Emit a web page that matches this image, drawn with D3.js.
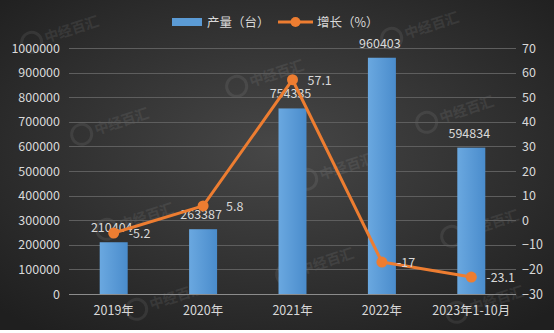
<!DOCTYPE html>
<html><head><meta charset="utf-8">
<script src="https://cdn.jsdelivr.net/npm/d3@7"></script>
<style>html,body{margin:0;padding:0;background:#fff}svg{display:block}</style>
</head><body><svg id="c" width="554" height="333"></svg>
<script>
const categories = ["2019年","2020年","2021年","2022年","2023年1-10月"];
const production = [210404, 263387, 754335, 960403, 594834];
const growth = [-5.2, 5.8, 57.1, -17, -23.1];
const leftTicks = [0,100000,200000,300000,400000,500000,600000,700000,800000,900000,1000000];
const rightTicks = [-30,-20,-10,0,10,20,30,40,50,60,70];
const legendLabels = ["产量（台）","增长（%）"];

const W=554,H=333;
const svg=d3.select("#c");
const defs=svg.append("defs");
const rg=defs.append("radialGradient").attr("id","bg").attr("cx","50%").attr("cy","45%").attr("r","70%");
rg.append("stop").attr("offset","0%").attr("stop-color","#474747");
rg.append("stop").attr("offset","100%").attr("stop-color","#1f1f1f");
const bgr=defs.append("linearGradient").attr("id","bar").attr("x1","0").attr("x2","1").attr("y1","0").attr("y2","0");
bgr.append("stop").attr("offset","0%").attr("stop-color","#6aa8e0");
bgr.append("stop").attr("offset","100%").attr("stop-color","#4a8ccc");
svg.append("rect").attr("width",W).attr("height",330).attr("fill","url(#bg)");

const font="'Microsoft YaHei','Noto Sans CJK SC','DejaVu Sans',sans-serif";
const m={l:69,r:516,t:48,b:294};
const x=d3.scaleBand().domain(categories).range([m.l,m.r]).paddingInner(0.687).paddingOuter(0.3435);
const yL=d3.scaleLinear().domain([0,1000000]).range([m.b,m.t]);
const yR=d3.scaleLinear().domain([-30,70]).range([m.b,m.t]);

// watermarks (faint, as in the reference)
const wm=[[45,38],[250,82],[95,130],[405,34],[440,118],[320,175],[120,225],[465,232],[300,270],[150,305],[470,308]];
wm.forEach(([a,b])=>{
  const g=svg.append("g").attr("transform",`translate(${a},${b}) rotate(-18)`).attr("opacity",0.07);
  g.append("circle").attr("cx",-14).attr("cy",0).attr("r",10).attr("fill","none").attr("stroke","#fff").attr("stroke-width",3);
  g.append("text").attr("x",0).attr("y",5).attr("fill","#fff").attr("font-size",14).attr("font-weight","bold").attr("font-family",font).text("中经百汇");
});

// grid
svg.append("g").selectAll("line").data(leftTicks.slice(1)).join("line")
  .attr("x1",m.l).attr("x2",m.r).attr("y1",d=>Math.round(yL(d))+0.5).attr("y2",d=>Math.round(yL(d))+0.5)
  .attr("stroke","#5e5e5e").attr("stroke-width",1);

// left axis
const axL=d3.axisLeft(yL).tickValues(leftTicks).tickFormat(d3.format("d")).tickSize(0).tickPadding(9);
const gL=svg.append("g").attr("transform",`translate(${m.l},0)`).call(axL);
gL.select(".domain").remove();
gL.selectAll("text").attr("fill","#d9d9d9").attr("font-size",12.5).attr("font-family",font);

const axR=d3.axisRight(yR).tickValues(rightTicks).tickSize(0).tickPadding(6);
const gR=svg.append("g").attr("transform",`translate(${m.r},0)`).call(axR);
gR.select(".domain").remove();
gR.selectAll("text").attr("fill","#d9d9d9").attr("font-size",12.5).attr("font-family",font);

// bars
svg.append("g").selectAll("rect").data(production).join("rect")
  .attr("x",(d,i)=>x(categories[i])).attr("width",x.bandwidth())
  .attr("y",d=>yL(d)).attr("height",d=>yL(0)-yL(d)).attr("fill","url(#bar)");

// baseline
svg.append("line").attr("x1",m.l).attr("x2",m.r).attr("y1",yL(0)+0.5).attr("y2",yL(0)+0.5).attr("stroke","#8c8c8c").attr("stroke-width",1.2);

// x axis labels
const axB=d3.axisBottom(x).tickSize(0).tickPadding(12);
const gB=svg.append("g").attr("transform",`translate(0,${m.b})`).call(axB);
gB.select(".domain").remove();
gB.selectAll("text").attr("fill","#d9d9d9").attr("font-size",12.5).attr("font-family",font);

// bar labels
svg.append("g").selectAll("text").data(production).join("text")
  .attr("x",(d,i)=>x(categories[i])+x.bandwidth()/2-2).attr("y",d=>yL(d)-10)
  .attr("text-anchor","middle").attr("fill","#d9d9d9").attr("font-size",12.5).attr("font-family",font).text(d=>d);

// line
const cx=(d,i)=>x(categories[i])+x.bandwidth()/2;
const line=d3.line().x((d,i)=>cx(d,i)).y(d=>yR(d));
svg.append("path").datum(growth).attr("d",line).attr("fill","none").attr("stroke","#ed7d31").attr("stroke-width",3).attr("stroke-linejoin","round");
svg.append("g").selectAll("circle").data(growth).join("circle")
  .attr("cx",cx).attr("cy",d=>yR(d)).attr("r",5.5).attr("fill","#ed7d31");
svg.append("g").selectAll("text").data(growth).join("text")
  .attr("x",(d,i)=>cx(d,i)+(d>0&&d<10?23:15)).attr("y",d=>yR(d)+5)
  .attr("fill","#d9d9d9").attr("font-size",12.5).attr("font-family",font).text(d=>d);

// legend
const lg=svg.append("g");
lg.append("rect").attr("x",172).attr("y",18).attr("width",30).attr("height",8).attr("fill","#5b9bd5");
lg.append("text").attr("x",207).attr("y",27).attr("fill","#d9d9d9").attr("font-size",12.5).attr("font-family",font).text(legendLabels[0]);
lg.append("line").attr("x1",278).attr("x2",313).attr("y1",22).attr("y2",22).attr("stroke","#ed7d31").attr("stroke-width",3);
lg.append("circle").attr("cx",295.5).attr("cy",22).attr("r",5).attr("fill","#ed7d31");
lg.append("text").attr("x",317).attr("y",27).attr("fill","#d9d9d9").attr("font-size",12.5).attr("font-family",font).text(legendLabels[1]);
</script></body></html>
